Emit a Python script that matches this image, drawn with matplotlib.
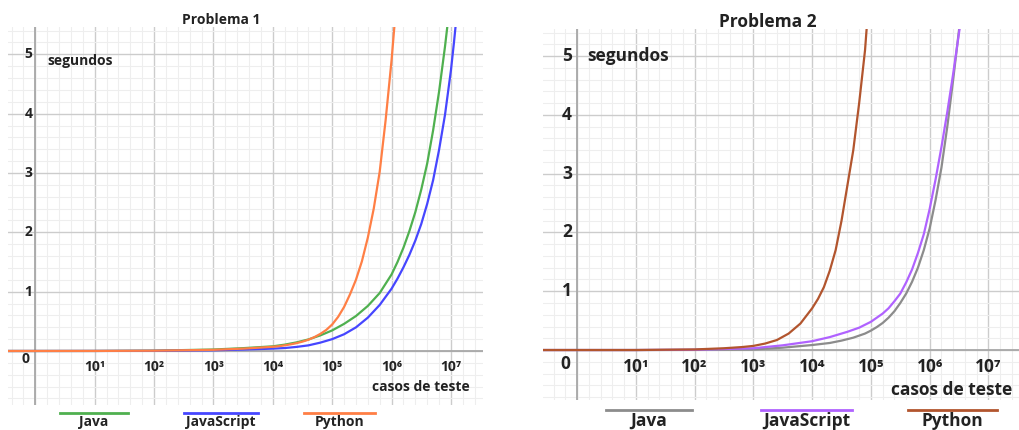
import matplotlib
matplotlib.use('Agg')

import matplotlib.pyplot as plt
from matplotlib.lines import Line2D
from matplotlib.ticker import MultipleLocator

W, H = 1019, 430
FONT = ['Open Sans', 'DejaVu Sans']

decades = [1, 2, 3, 4, 5, 6, 7]
decade_labels = ['10¹', '10²', '10³', '10⁴', '10⁵', '10⁶', '10⁷']
second_ticks = [1, 2, 3, 4, 5]
languages = ['Java', 'JavaScript', 'Python']

# x = expoente de casos de teste (10^x), y = segundos
p1_java_exp = [-0.6, 1, 2, 3, 3.5, 4.0, 4.2, 4.4, 4.6, 4.8, 5.0, 5.2, 5.4, 5.6, 5.8, 6.0, 6.1, 6.2, 6.3, 6.4, 6.5, 6.6, 6.7, 6.8, 6.9, 6.95]
p1_java_sec = [0, 0.001, 0.006, 0.025, 0.048, 0.079, 0.107, 0.145, 0.195, 0.263, 0.347, 0.457, 0.589, 0.759, 0.977, 1.29, 1.5, 1.74, 2.02, 2.34, 2.72, 3.16, 3.72, 4.37, 5.13, 5.56]
p1_js_exp = [-0.6, 1, 2, 3, 3.5, 4.0, 4.2, 4.4, 4.6, 4.8, 5.0, 5.2, 5.4, 5.6, 5.8, 6.0, 6.1, 6.2, 6.3, 6.4, 6.5, 6.6, 6.7, 6.8, 6.9, 7.0, 7.05, 7.1]
p1_js_sec = [0, 0.001, 0.003, 0.012, 0.024, 0.04, 0.05, 0.069, 0.095, 0.141, 0.2, 0.282, 0.398, 0.562, 0.776, 1.05, 1.22, 1.41, 1.62, 1.86, 2.14, 2.48, 2.88, 3.39, 3.98, 4.73, 5.19, 5.69]
p1_py_exp = [-0.6, 1, 2, 3, 3.5, 3.75, 4.0, 4.1, 4.2, 4.3, 4.4, 4.5, 4.6, 4.7, 4.8, 4.9, 5.0, 5.1, 5.2, 5.3, 5.4, 5.5, 5.6, 5.7, 5.8, 5.9, 6.0, 6.05]
p1_py_sec = [0, 0.001, 0.005, 0.02, 0.04, 0.055, 0.071, 0.081, 0.095, 0.112, 0.132, 0.158, 0.19, 0.234, 0.288, 0.355, 0.447, 0.575, 0.741, 0.955, 1.2, 1.51, 1.91, 2.4, 3.02, 3.89, 4.9, 5.5]

p2_java_exp = [-0.6, 1, 2, 3.0, 3.5, 4.0, 4.3, 4.5, 4.7, 4.9, 5.0, 5.1, 5.2, 5.3, 5.4, 5.5, 5.6, 5.7, 5.8, 5.9, 6.0, 6.1, 6.2, 6.3, 6.4, 6.5, 6.52]
p2_java_sec = [0, 0, 0.002, 0.01, 0.04, 0.085, 0.12, 0.16, 0.21, 0.28, 0.33, 0.39, 0.46, 0.55, 0.66, 0.8, 0.96, 1.16, 1.4, 1.7, 2.07, 2.55, 3.1, 3.8, 4.6, 5.45, 5.6]
p2_js_exp = [-0.6, 1, 2, 3.0, 3.5, 4.0, 4.3, 4.6, 4.8, 5.0, 5.1, 5.2, 5.3, 5.4, 5.5, 5.6, 5.7, 5.8, 5.9, 6.0, 6.1, 6.2, 6.3, 6.4, 6.5, 6.52]
p2_js_sec = [0, 0, 0.005, 0.03, 0.08, 0.15, 0.22, 0.31, 0.38, 0.48, 0.55, 0.62, 0.71, 0.83, 0.96, 1.15, 1.37, 1.65, 1.97, 2.4, 2.9, 3.45, 4.05, 4.7, 5.4, 5.55]
p2_py_exp = [-0.6, 1, 2, 2.5, 2.8, 3.0, 3.2, 3.4, 3.6, 3.8, 4.0, 4.1, 4.2, 4.3, 4.4, 4.5, 4.6, 4.7, 4.8, 4.9, 4.93]
p2_py_sec = [0, 0, 0.01, 0.03, 0.05, 0.07, 0.11, 0.17, 0.28, 0.45, 0.71, 0.87, 1.07, 1.35, 1.7, 2.2, 2.8, 3.4, 4.2, 5.1, 5.5]

panels = [
    dict(title='Problema 1', rect=(8, 27, 483, 405), xlim=(-0.46, 7.54), ylim=(-0.91, 5.46),
         series=[(p1_java_exp, p1_java_sec), (p1_js_exp, p1_js_sec), (p1_py_exp, p1_py_sec)],
         colors=['#4fb04f', '#4646ff', '#ff7f45'], fs=10, title_xy=(221, 20),
         ylab_x=-0.05, zero_xy=(-0.17, -0.13), xlab_y=-0.27,
         seg_xy=(0.2, 4.89), casos=(7.32, -0.61, 'right'),
         leg_y=413, leg_text_y=422, leg_x=[(60, 128), (184, 258), (304, 375)]),
    dict(title='Problema 2', rect=(543, 29, 1019, 400), xlim=(-0.58, 7.52), ylim=(-0.85, 5.46),
         series=[(p2_java_exp, p2_java_sec), (p2_js_exp, p2_js_sec), (p2_py_exp, p2_py_sec)],
         colors=['#8c8c8c', '#b062ff', '#b2552e'], fs=12.5, title_xy=(768, 22),
         ylab_x=-0.085, zero_xy=(-0.2, -0.24), xlab_y=-0.29,
         seg_xy=(0.17, 5.0), casos=(5.34, -0.68, 'left'),
         leg_y=410, leg_text_y=421, leg_x=[(606, 692), (761, 852), (908, 997)]),
]

fig = plt.figure(figsize=(W / 100, H / 100), dpi=100)

for p in panels:
    x0, y0, x1, y1 = p['rect']
    ax = fig.add_axes([x0 / W, 1 - y1 / H, (x1 - x0) / W, (y1 - y0) / H])
    ax.set_xlim(*p['xlim'])
    ax.set_ylim(*p['ylim'])
    for s in ax.spines.values():
        s.set_visible(False)
    ax.xaxis.set_major_locator(MultipleLocator(1))
    ax.yaxis.set_major_locator(MultipleLocator(1))
    ax.xaxis.set_minor_locator(MultipleLocator(0.2))
    ax.yaxis.set_minor_locator(MultipleLocator(0.2))
    ax.tick_params(which='both', length=0, labelbottom=False, labelleft=False)
    ax.grid(which='minor', color='#eeeeee', lw=0.8)
    ax.grid(which='major', color='#cccccc', lw=1.0)
    ax.set_axisbelow(True)
    ax.axhline(0, color='#a8a8a8', lw=1.3, zorder=1)
    ax.axvline(0, color='#a8a8a8', lw=1.3, zorder=1)

    for (xs, ys), c in zip(p['series'], p['colors']):
        ax.plot(xs, ys, color=c, lw=1.6, zorder=3, solid_joinstyle='round')

    fs = p['fs']
    tkw = dict(fontsize=fs, fontweight='bold', family=FONT, color='#222222')
    for v in second_ticks:
        ax.text(p['ylab_x'], v, str(v), ha='right', va='center', **tkw)
    ax.text(*p['zero_xy'], '0', ha='center', va='center', **tkw)
    for d, lab in zip(decades, decade_labels):
        ax.text(d, p['xlab_y'], lab, ha='center', va='center', **tkw)
    ax.text(*p['seg_xy'], 'segundos', ha='left', va='center', **tkw)
    cx, cy, cha = p['casos']
    ax.text(cx, cy, 'casos de teste', ha=cha, va='center', clip_on=False, **tkw)

    fig.text(p['title_xy'][0] / W, 1 - p['title_xy'][1] / H, p['title'],
             ha='center', va='center', **tkw)

    for (lx0, lx1), c, name in zip(p['leg_x'], p['colors'], languages):
        fig.add_artist(Line2D([lx0 / W, lx1 / W], [1 - p['leg_y'] / H] * 2,
                              transform=fig.transFigure, color=c, lw=2))
        fig.text((lx0 + lx1) / 2 / W, 1 - p['leg_text_y'] / H, name,
                 ha='center', va='center', **tkw)

fig.savefig('out.png', dpi=100)
